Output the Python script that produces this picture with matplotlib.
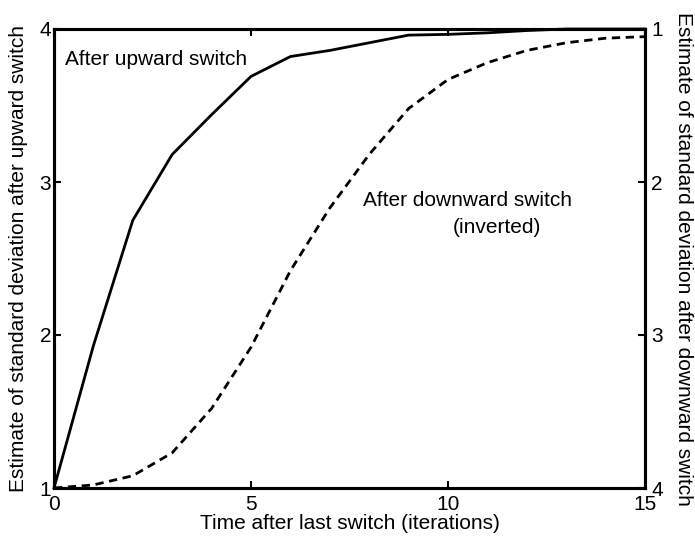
import matplotlib
matplotlib.use('Agg')
from matplotlib import pyplot as plt

plt.rcParams['font.family'] = ['Liberation Sans', 'DejaVu Sans']
plt.rcParams['font.size'] = 15

# iterations after the last switch
iterations = list(range(16))

# estimate after an upward switch (left axis)
up_estimate = [1.0, 1.93, 2.75, 3.18, 3.44, 3.69, 3.82, 3.86, 3.91, 3.96,
               3.965, 3.975, 3.99, 4.0, 4.0, 4.0]

# estimate after a downward switch (right axis, inverted)
down_estimate = [4.0, 3.98, 3.92, 3.77, 3.48, 3.08, 2.58, 2.17, 1.82, 1.52,
                 1.33, 1.22, 1.14, 1.09, 1.06, 1.05]

x_ticks = [0, 5, 10, 15]
y_ticks = [1, 2, 3, 4]

fig = plt.figure(figsize=(6.95, 5.43), dpi=100)
ax = fig.add_axes([54 / 695, 1 - 488 / 543, 591 / 695, 459 / 543])
ax2 = ax.twinx()

ax.plot(iterations, up_estimate, color='black', lw=2, clip_on=False)
ax2.plot(iterations, down_estimate, color='black', lw=2, dashes=(3, 2),
         clip_on=False)

ax.set_xlim(0, 15)
ax.set_ylim(1, 4)
ax2.set_ylim(4, 1)
ax.set_xticks(x_ticks)
ax.set_yticks(y_ticks)
ax2.set_yticks(y_ticks)

for a in (ax, ax2):
    for s in a.spines.values():
        s.set_linewidth(2.2)
ax.tick_params(axis='x', direction='in', length=5, width=1.5, top=True, pad=5)
ax.tick_params(axis='y', direction='in', length=5, width=1.5, pad=2)
ax2.tick_params(axis='y', direction='in', length=5, width=1.5, pad=4.5)

ax.text(0.28, 3.80, 'After upward switch', ha='left', va='center')
ax.text(10.49, 2.88, 'After downward switch', ha='center', va='center')
ax.text(11.24, 2.70, '(inverted)', ha='center', va='center')

ax.set_xlabel('Time after last switch (iterations)', labelpad=0)
fig.text(19 / 695, 1 - 259 / 543, 'Estimate of standard deviation after upward switch',
         rotation=90, ha='center', va='center')
fig.text(683 / 695, 1 - 259 / 543, 'Estimate of standard deviation after downward switch',
         rotation=270, ha='center', va='center')

fig.savefig('out.png', dpi=100)
